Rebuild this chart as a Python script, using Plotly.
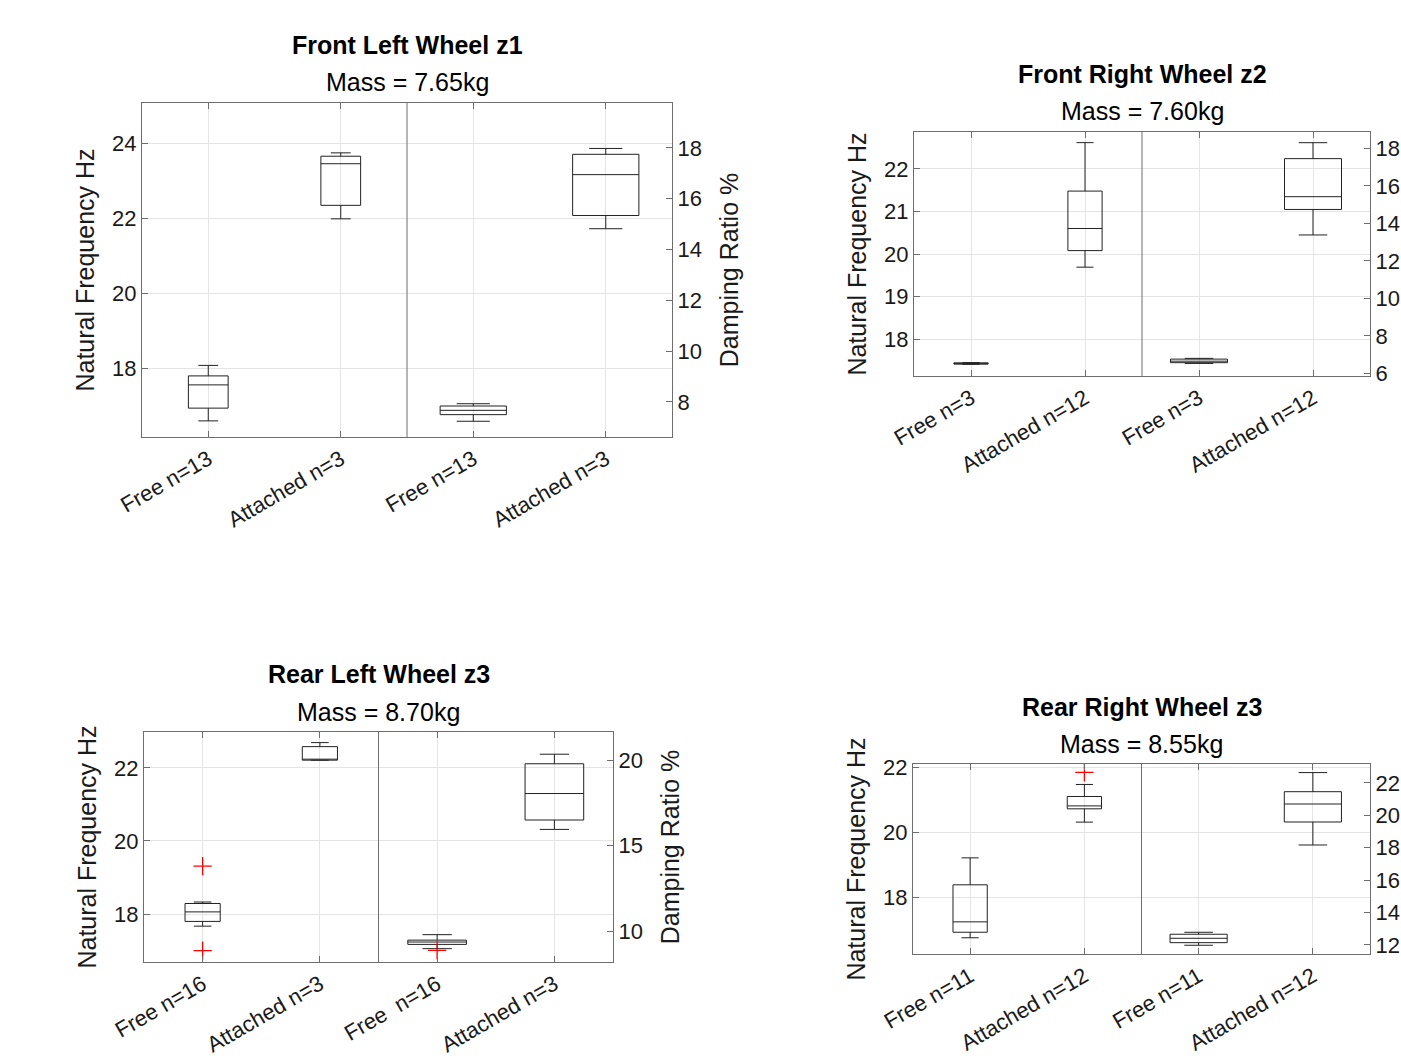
import plotly.graph_objects as go

# Panel headings
titles = ["Front Left Wheel z1", "Front Right Wheel z2", "Rear Left Wheel z3", "Rear Right Wheel z3"]
masses = ["Mass = 7.65kg", "Mass = 7.60kg", "Mass = 8.70kg", "Mass = 8.55kg"]

# Category labels per panel (left pair: natural frequency, right pair: damping ratio)
group_labels = [
    ["Free n=13", "Attached n=3", "Free n=13", "Attached n=3"],
    ["Free n=3", "Attached n=12", "Free n=3", "Attached n=12"],
    ["Free n=16", "Attached n=3", "Free \u00a0n=16", "Attached n=3"],
    ["Free n=11", "Attached n=12", "Free n=11", "Attached n=12"],
]

# Box statistics: [lower whisker, Q1, median, Q3, upper whisker]
freq_free = [
    [16.59, 16.93, 17.55, 17.79, 18.07],
    [17.405, 17.41, 17.42, 17.44, 17.445],
    [17.67, 17.80, 18.06, 18.29, 18.33],
    [16.75, 16.92, 17.24, 18.38, 19.21],
]
freq_attached = [
    [21.98, 22.34, 23.45, 23.65, 23.74],
    [19.69, 20.08, 20.60, 21.48, 22.62],
    [22.21, 22.21, 22.23, 22.58, 22.69],
    [20.31, 20.72, 20.81, 21.10, 21.47],
]
damp_free = [
    [7.24, 7.50, 7.67, 7.84, 7.93],
    [6.53, 6.57, 6.65, 6.76, 6.80],
    [8.97, 9.22, 9.36, 9.47, 9.79],
    [11.98, 12.14, 12.41, 12.66, 12.78],
]
damp_attached = [
    [14.82, 15.34, 16.95, 17.75, 17.98],
    [13.38, 14.74, 15.42, 17.45, 18.30],
    [15.95, 16.50, 18.05, 19.79, 20.35],
    [18.17, 19.59, 20.70, 21.46, 22.64],
]

# Outliers (category position 1..4 -> values)
freq_outliers = [
    {},
    {},
    {1: [19.31, 17.00]},
    {2: [21.84]},
]
damp_outliers = [
    {},
    {},
    {3: [8.87]},
    {},
]

# Axis limits and ticks
freq_range = [[16.16, 25.07], [17.13, 22.87], [16.69, 22.98], [16.25, 22.10]]
damp_range = [[6.62, 19.77], [5.86, 18.87], [8.19, 21.65], [11.44, 23.17]]
freq_ticks = [[18, 20, 22, 24], [18, 19, 20, 21, 22], [18, 20, 22], [18, 20, 22]]
damp_ticks = [[8, 10, 12, 14, 16, 18], [6, 8, 10, 12, 14, 16, 18], [10, 15, 20], [12, 14, 16, 18, 20, 22]]

W, H = 1401, 1059
# Plot boxes in pixels: (left, top, right, bottom)
boxes_px = [(142, 103, 672, 437), (914, 132, 1370, 376), (144, 732, 613, 962), (913, 764, 1370, 954)]
# Right-hand axis title only where the page has room for it
show_right_title = [True, False, True, False]

FONT = "Liberation Sans, Arial, Helvetica, sans-serif"
INK = "#1a1a1a"
AXIS = "#6e6e6e"
GRID = "#e4e4e4"
BOXLINE = "#222222"

fig = go.Figure()
layout = dict(
    width=W, height=H,
    margin=dict(l=0, r=0, t=0, b=0, autoexpand=False),
    paper_bgcolor="white", plot_bgcolor="white",
    showlegend=False,
    font=dict(family=FONT, color=INK, size=22),
    annotations=[], shapes=[],
)


def add_box(stats, xpos, width, xa, ya):
    lo, q1, med, q3, hi = stats
    fig.add_trace(go.Box(
        x=[xpos], q1=[q1], median=[med], q3=[q3],
        lowerfence=[lo], upperfence=[hi],
        width=width, whiskerwidth=0.5, boxpoints=False,
        line=dict(color=BOXLINE, width=1),
        fillcolor="rgba(0,0,0,0)",
        xaxis=xa, yaxis=ya, hoverinfo="skip",
    ))


def add_outliers(outs, xa, ya):
    for xpos, vals in outs.items():
        fig.add_trace(go.Scatter(
            x=[xpos] * len(vals), y=vals, mode="markers",
            marker=dict(symbol="cross-thin", size=13, color="red",
                        line=dict(color="red", width=1.3)),
            xaxis=xa, yaxis=ya, hoverinfo="skip",
        ))


for i in range(4):
    xa = "x" if i == 0 else f"x{i + 1}"
    yl = "y" if i == 0 else f"y{2 * i + 1}"
    yr = f"y{2 * i + 2}"
    xa_key = "xaxis" if i == 0 else f"xaxis{i + 1}"
    yl_key = "yaxis" if i == 0 else f"yaxis{2 * i + 1}"
    yr_key = f"yaxis{2 * i + 2}"

    left, top, right, bottom = boxes_px[i]
    xdom = [left / W, right / W]
    ydom = [1 - bottom / H, 1 - top / H]

    # Natural frequency boxes (left axis)
    add_box(freq_free[i], 1, 0.3, xa, yl)
    add_box(freq_attached[i], 2, 0.3, xa, yl)
    add_outliers(freq_outliers[i], xa, yl)
    # Damping ratio boxes (right axis)
    add_box(damp_free[i], 3, 0.5, xa, yr)
    add_box(damp_attached[i], 4, 0.5, xa, yr)
    add_outliers(damp_outliers[i], xa, yr)

    layout[xa_key] = dict(
        domain=xdom, anchor=yl, range=[0.5, 4.5], automargin=False,
        tickmode="array", tickvals=[1, 2, 3, 4], ticktext=group_labels[i],
        tickangle=-30, tickfont=dict(size=22, color=INK, family=FONT),
        ticks="inside", ticklen=6, tickcolor=AXIS,
        showline=True, linecolor=AXIS, linewidth=1, mirror="ticks",
        showgrid=True, gridcolor=GRID, gridwidth=1, zeroline=False,
        fixedrange=True,
    )
    layout[yl_key] = dict(
        domain=ydom, anchor=xa, range=freq_range[i], automargin=False,
        tickmode="array", tickvals=freq_ticks[i],
        tickfont=dict(size=22, color=INK, family=FONT),
        ticks="inside", ticklen=6, tickcolor=AXIS,
        showline=True, linecolor=AXIS, linewidth=1,
        showgrid=True, gridcolor=GRID, gridwidth=1, zeroline=False,
        title=dict(text="Natural Frequency Hz", font=dict(size=25, color=INK, family=FONT), standoff=10),
        fixedrange=True,
    )
    right_axis = dict(
        overlaying=yl, side="right", anchor=xa, range=damp_range[i], automargin=False,
        tickmode="array", tickvals=damp_ticks[i],
        tickfont=dict(size=22, color=INK, family=FONT),
        ticks="inside", ticklen=6, tickcolor=AXIS,
        showline=True, linecolor=AXIS, linewidth=1,
        showgrid=False, zeroline=False,
        fixedrange=True,
    )
    if show_right_title[i]:
        right_axis["title"] = dict(text="Damping Ratio %",
                                   font=dict(size=25, color=INK, family=FONT), standoff=19)
    layout[yr_key] = right_axis

    # Separator between frequency and damping groups
    layout["shapes"].append(dict(
        type="line", xref=xa, yref=f"{yl} domain", x0=2.5, x1=2.5, y0=0, y1=1,
        line=dict(color=AXIS, width=1),
    ))

    # Two-line heading
    cx = (xdom[0] + xdom[1]) / 2
    layout["annotations"].append(dict(
        text=f"<b>{titles[i]}</b>", xref="paper", yref="paper",
        x=cx, y=ydom[1] + 57.5 / H, xanchor="center", yanchor="middle",
        showarrow=False, font=dict(size=25, color="black", family=FONT),
    ))
    layout["annotations"].append(dict(
        text=masses[i], xref="paper", yref="paper",
        x=cx, y=ydom[1] + 20.5 / H, xanchor="center", yanchor="middle",
        showarrow=False, font=dict(size=25, color="black", family=FONT),
    ))

fig.update_layout(**layout)
fig.write_html("out.html")
